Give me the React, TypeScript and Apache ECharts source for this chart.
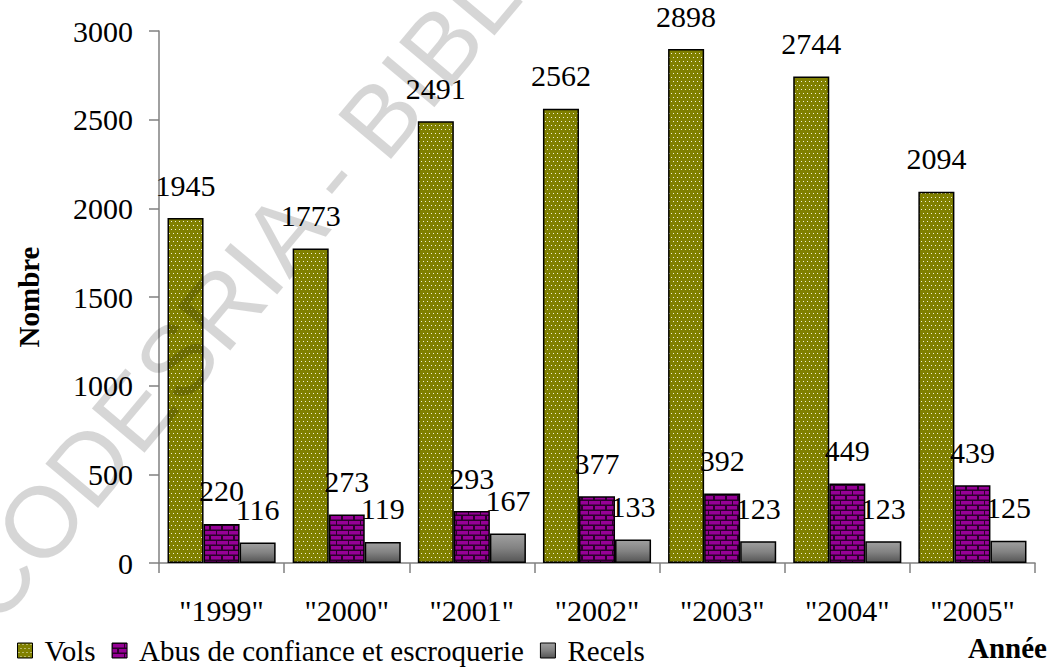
import React, { useEffect, useRef } from "react";
import * as echarts from "echarts";

const categories = ['"1999"', '"2000"', '"2001"', '"2002"', '"2003"', '"2004"', '"2005"'];
const vols = [1945, 1773, 2491, 2562, 2898, 2744, 2094];
const abus = [220, 273, 293, 377, 392, 449, 439];
const recels = [116, 119, 167, 133, 123, 123, 125];
const seriesNames = ["Vols", "Abus de confiance et escroquerie", "Recels"];
const yTicks = { min: 0, max: 3000, interval: 500 };

const FONT = "'Liberation Serif', 'Times New Roman', serif";

function makePattern(w: number, h: number, draw: (ctx: CanvasRenderingContext2D) => void) {
  const c = document.createElement("canvas");
  c.width = w;
  c.height = h;
  const ctx = c.getContext("2d")!;
  draw(ctx);
  return { image: c.toDataURL(), repeat: "repeat", imageWidth: w, imageHeight: h } as any;
}

export default function App() {
  const ref = useRef<HTMLDivElement>(null);
  useEffect(() => {
    if (!ref.current) return;
    const chart = echarts.init(ref.current, null, { renderer: "svg" });

    const dots = makePattern(4, 8, (ctx) => {
      ctx.fillStyle = "#808000";
      ctx.fillRect(0, 0, 4, 8);
      ctx.fillStyle = "#f0f0d8";
      ctx.fillRect(1, 1, 1, 1);
      ctx.fillRect(3, 5, 1, 1);
    });
    const bricks = makePattern(12, 10, (ctx) => {
      ctx.fillStyle = "#2a002a";
      ctx.fillRect(0, 0, 12, 10);
      ctx.fillStyle = "#960096";
      ctx.fillRect(1, 1, 11, 3.5);
      ctx.fillRect(0, 6, 5, 3.5);
      ctx.fillRect(7, 6, 5, 3.5);
    });
    const grayGrad = new echarts.graphic.LinearGradient(0, 0, 0, 1, [
      { offset: 0, color: "#a0a0a0" },
      { offset: 0.5, color: "#828282" },
      { offset: 1, color: "#555555" },
    ]);

    const label = {
      show: true,
      position: "top",
      distance: 18,
      color: "#000",
      fontFamily: FONT,
      fontSize: 30,
    };
    const itemBase = { borderColor: "#000", borderWidth: 1.5 };

    const wmRot = (50 * Math.PI) / 180;
    const wmStyle = {
      fill: "rgba(0,0,0,0.16)",
      font: "100px 'Liberation Sans', Arial, sans-serif",
      textVerticalAlign: "middle",
    };

    chart.setOption({
      animation: false,
      backgroundColor: "#fff",
      grid: { left: 159, right: 15, top: 31, bottom: 105, containLabel: false },
      legend: {
        left: 12,
        top: 631,
        itemWidth: 15,
        itemHeight: 15,
        itemGap: 16,
        icon: "rect",
        itemStyle: { borderColor: "#000", borderWidth: 1 },
        textStyle: { fontFamily: FONT, fontSize: 29, color: "#000", padding: [0, 0, 0, 7] },
        data: seriesNames,
      },
      xAxis: {
        type: "category",
        data: categories,
        name: "Année",
        nameLocation: "end",
        nameGap: 12,
        nameTextStyle: {
          fontFamily: FONT,
          fontSize: 29,
          fontWeight: "bold",
          color: "#000",
          align: "right",
          verticalAlign: "top",
          padding: [70, 0, 0, 0],
        },
        axisLine: { lineStyle: { color: "#808080", width: 1.5 } },
        axisTick: { show: true, length: 10, lineStyle: { color: "#808080", width: 1.5 } },
        axisLabel: { fontFamily: FONT, fontSize: 30, color: "#000", margin: 32 },
      },
      yAxis: {
        type: "value",
        min: yTicks.min,
        max: yTicks.max,
        interval: yTicks.interval,
        name: "Nombre",
        nameLocation: "middle",
        nameGap: 116,
        nameTextStyle: { fontFamily: FONT, fontSize: 29, fontWeight: "bold", color: "#000" },
        axisLine: { show: true, lineStyle: { color: "#808080", width: 1.5 } },
        axisTick: { show: true, length: 10, lineStyle: { color: "#808080", width: 1.5 } },
        splitLine: { show: false },
        axisLabel: {
          fontFamily: FONT,
          fontSize: 30,
          color: "#000",
          margin: 26,
          formatter: (v: number) => String(v),
        },
      },
      series: [
        {
          name: seriesNames[0],
          type: "bar",
          data: vols,
          barGap: "0%",
          barCategoryGap: "13.6%",
          itemStyle: { ...itemBase, color: dots },
          label,
        },
        {
          name: seriesNames[1],
          type: "bar",
          data: abus,
          itemStyle: { ...itemBase, color: bricks },
          label,
        },
        {
          name: seriesNames[2],
          type: "bar",
          data: recels,
          itemStyle: { ...itemBase, color: grayGrad },
          label,
        },
      ],
      graphic: [
        {
          type: "text",
          x: 341,
          y: 164,
          rotation: wmRot,
          silent: true,
          z: 100,
          style: { ...wmStyle, text: "CODESRIA -", textAlign: "right" },
        },
        {
          type: "text",
          x: 341,
          y: 164,
          rotation: wmRot,
          silent: true,
          z: 100,
          style: { ...wmStyle, text: " BIBLIOTHEQUE", textAlign: "left" },
        },
      ],
    });
    return () => chart.dispose();
  }, []);
  return <div ref={ref} style={{ width: 1050, height: 668, position: "absolute", left: 0, top: 0 }} />;
}
